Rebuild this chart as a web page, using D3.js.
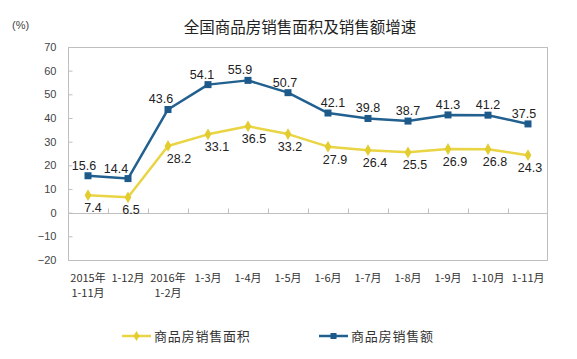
<!DOCTYPE html>
<html><head><meta charset="utf-8">
<script src="https://cdn.jsdelivr.net/npm/d3@7"></script>
<style>html,body{margin:0;padding:0;background:#fff;}svg{display:block;}</style>
</head><body>
<svg id="c" width="577" height="359"></svg>
<script>
const categories = [["2015年","1-11月"],["1-12月"],["2016年","1-2月"],["1-3月"],["1-4月"],["1-5月"],["1-6月"],["1-7月"],["1-8月"],["1-9月"],["1-10月"],["1-11月"]];
const areaGrowth = [7.4, 6.5, 28.2, 33.1, 36.5, 33.2, 27.9, 26.4, 25.5, 26.9, 26.8, 24.3];
const salesGrowth = [15.6, 14.4, 43.6, 54.1, 55.9, 50.7, 42.1, 39.8, 38.7, 41.3, 41.2, 37.5];
const yTicks = [70, 60, 50, 40, 30, 20, 10, 0, -10, -20];
const seriesNames = ["商品房销售面积", "商品房销售额"];
const title = "全国商品房销售面积及销售额增速";

const svg = d3.select("#c");
const L = 68, R = 548, T = 47, B = 260;
const cjk = "'Noto Sans CJK SC','Noto Sans',sans-serif";
const num = "'Liberation Sans',Arial,sans-serif";
const blue = "#22608f", yellow = "#e9d443", grey = "#bfbfbf";

const x = d3.scaleBand().domain(d3.range(categories.length)).range([L, R]);
const y = d3.scaleLinear().domain([-20, 70]).range([B, T]);
const cx = i => x(i) + x.bandwidth() / 2;

svg.append("text").attr("x", 300).attr("y", 33).attr("text-anchor", "middle")
  .attr("font-family", cjk).attr("font-size", 15.5).attr("fill", "#222").text(title);
svg.append("text").attr("x", 12).attr("y", 29).attr("font-family", num)
  .attr("font-size", 11).attr("fill", "#444").text("(%)");

// plot border
svg.append("rect").attr("x", L + 0.5).attr("y", T + 0.5).attr("width", R - L - 1).attr("height", B - T)
  .attr("fill", "none").attr("stroke", grey);

// y axis
const yAxis = d3.axisLeft(y).tickValues(yTicks).tickSize(-4).tickPadding(12).tickFormat(d3.format("d"));
const ya = svg.append("g").attr("transform", `translate(${L + 0.5},0)`).call(yAxis);
ya.select(".domain").remove();
ya.selectAll("line").attr("stroke", grey);
ya.selectAll("text").attr("font-family", num).attr("font-size", 11).attr("fill", "#444");

// zero axis with ticks at band boundaries
const z = Math.round(y(0)) + 0.5;
svg.append("line").attr("x1", L).attr("x2", R).attr("y1", z).attr("y2", z).attr("stroke", grey);
svg.selectAll(".xt").data(d3.range(1, categories.length)).enter().append("line")
  .attr("x1", i => x(i) + 0.5).attr("x2", i => x(i) + 0.5).attr("y1", z).attr("y2", z - 5).attr("stroke", grey);

// x labels
svg.selectAll(".xl").data(categories).enter().append("text")
  .attr("text-anchor", "middle").attr("font-family", cjk).attr("font-size", 11).attr("fill", "#333")
  .each(function (d, i) {
    d3.select(this).selectAll("tspan").data(d).enter().append("tspan")
      .attr("x", cx(i)).attr("y", (s, j) => 282 + j * 15).text(s => s);
  });

const line = d3.line().x((d, i) => cx(i)).y(d => y(d));

// label nudges (layout only)
const blueDx = {0: -4, 1: -12, 2: -7, 3: -6, 4: -8, 5: -3, 6: 5, 11: -4};
const yellowDx = {0: 5, 1: 3, 2: 11, 3: 9, 4: 6, 5: 2, 11: 2};

// yellow series
svg.append("path").datum(areaGrowth).attr("d", line).attr("fill", "none")
  .attr("stroke", yellow).attr("stroke-width", 2.5).attr("stroke-linejoin", "round");
svg.selectAll(".ym").data(areaGrowth).enter().append("path")
  .attr("d", d3.symbol(d3.symbolDiamond, 40)).attr("transform", (d, i) => `translate(${cx(i)},${y(d)})`)
  .attr("fill", "#e2cc2e");
svg.selectAll(".yl").data(areaGrowth).enter().append("text")
  .attr("x", (d, i) => cx(i) + (yellowDx[i] ?? 7)).attr("y", d => y(d) + 17).attr("text-anchor", "middle")
  .attr("font-family", num).attr("font-size", 12.5).attr("fill", "#222").text(d => d.toFixed(1));

// blue series
svg.append("path").datum(salesGrowth).attr("d", line).attr("fill", "none")
  .attr("stroke", blue).attr("stroke-width", 2.5).attr("stroke-linejoin", "round");
svg.selectAll(".bm").data(salesGrowth).enter().append("rect")
  .attr("x", (d, i) => cx(i) - 3.5).attr("y", d => y(d) - 3.5).attr("width", 7).attr("height", 7)
  .attr("fill", "#1d5a8a");
svg.selectAll(".bl").data(salesGrowth).enter().append("text")
  .attr("x", (d, i) => cx(i) + (blueDx[i] ?? 0)).attr("y", d => y(d) - 6).attr("text-anchor", "middle")
  .attr("font-family", num).attr("font-size", 12.5).attr("fill", "#222").text(d => d.toFixed(1));

// legend
const legend = [{name: seriesNames[0], color: yellow, mk: "d", x0: 122}, {name: seriesNames[1], color: blue, mk: "s", x0: 319}];
const lg = svg.selectAll(".lg").data(legend).enter().append("g").attr("transform", d => `translate(${d.x0},336)`);
lg.append("line").attr("x1", 0).attr("x2", 29).attr("stroke", d => d.color).attr("stroke-width", 2.5);
lg.append("path").attr("transform", "translate(14.5,0)")
  .attr("d", d => d.mk === "d" ? d3.symbol(d3.symbolDiamond, 30)() : d3.symbol(d3.symbolSquare, 36)())
  .attr("fill", d => d.mk === "d" ? "#e2cc2e" : "#1d5a8a");
lg.append("text").attr("x", 32).attr("y", 4.5).attr("font-family", cjk).attr("font-size", 13)
  .attr("letter-spacing", 0.8).attr("fill", "#333").text(d => d.name);
</script>
</body></html>
